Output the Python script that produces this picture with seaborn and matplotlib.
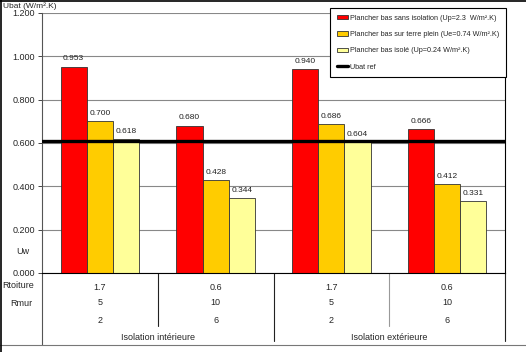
import pandas as pd
import matplotlib.pyplot as plt
import matplotlib.transforms as mtransforms
from matplotlib.lines import Line2D
import seaborn as sns

# Data
groups = ["G1", "G2", "G3", "G4"]
series = ["Plancher bas sans isolation (Up=2.3  W/m².K)",
          "Plancher bas sur terre plein (Ue=0.74 W/m².K)",
          "Plancher bas isolé (Up=0.24 W/m².K)"]
sans_isolation = [0.953, 0.680, 0.940, 0.666]
terre_plein = [0.700, 0.428, 0.686, 0.412]
isole = [0.618, 0.344, 0.604, 0.331]
ubat_ref = 0.61
rtoiture = ["1.7", "0.6", "1.7", "0.6"]
rmur = ["5", "10", "5", "10"]
uw = ["2", "6", "2", "6"]
isolation_labels = ["Isolation intérieure", "Isolation extérieure"]

rows = []
for s, vals in zip(series, [sans_isolation, terre_plein, isole]):
    for g, v in zip(groups, vals):
        rows.append({"groupe": g, "serie": s, "Ubat": v})
df = pd.DataFrame(rows)

sns.set_style("white")
plt.rcParams['font.family'] = ['Liberation Sans', 'DejaVu Sans']

fig = plt.figure(figsize=(5.26, 3.52), dpi=100)
ax = fig.add_axes([42/526, 1-273/352, 463/526, 260/352])

palette = ["#FF0000", "#FFCC00", "#FFFF99"]
sns.barplot(data=df, x="groupe", y="Ubat", hue="serie", palette=palette,
            saturation=1, width=0.68, edgecolor="#333333", linewidth=0.6, ax=ax)

for container in ax.containers:
    ax.bar_label(container, fmt="%.3f", padding=3, fontsize=6, color="#222222")

ax.axhline(ubat_ref, color="black", linewidth=2.4, label="Ubat ref", zorder=3)

ax.set_ylim(0, 1.2)
ax.set_yticks([0, 0.2, 0.4, 0.6, 0.8, 1.0, 1.2])
ax.set_yticklabels([f"{t:.3f}" for t in ax.get_yticks()], fontsize=6.5)
ax.yaxis.grid(True, color="#888888", linewidth=0.8)
ax.set_axisbelow(True)
ax.tick_params(axis="y", direction="out", length=3, width=0.6, pad=2, left=True)
ax.set_xticks([])
ax.set_xlabel("")
ax.set_ylabel("")
ax.set_xlim(-0.5, 3.5)
ax.spines["top"].set_visible(False)
ax.spines["left"].set_color("#555555")
ax.spines["right"].set_color("black")
ax.spines["bottom"].set_color("black")
for sp in ax.spines.values():
    sp.set_linewidth(0.8)

handles, labels = ax.get_legend_handles_labels()
leg = ax.legend(handles, labels, loc="upper right", bbox_to_anchor=(1.006, 1.027),
                fontsize=5.2, frameon=True, fancybox=False, edgecolor="black",
                framealpha=1, borderpad=0.9, labelspacing=1.3,
                handlelength=1.6, handleheight=0.6, handletextpad=0.2,
                borderaxespad=0.3)
leg.get_frame().set_linewidth(0.8)

# table below the chart
trans = mtransforms.blended_transform_factory(ax.transData, ax.transAxes)
for i in range(len(groups)):
    ax.text(i, -0.054, rtoiture[i], transform=trans, ha="center", va="center", fontsize=6.5)
    ax.text(i, -0.115, rmur[i], transform=trans, ha="center", va="center", fontsize=6.5)
    ax.text(i, -0.181, uw[i], transform=trans, ha="center", va="center", fontsize=6.5)
ax.text(0.5, -0.25, isolation_labels[0], transform=trans, ha="center", va="center", fontsize=6.5)
ax.text(2.5, -0.25, isolation_labels[1], transform=trans, ha="center", va="center", fontsize=6.5)

for xs, y1, col in [(0.5, -0.205, "#222222"), (1.5, -0.26, "#222222"),
                    (2.5, -0.205, "#999999"), (3.5, -0.26, "#222222")]:
    ax.add_line(Line2D([xs, xs], [0, y1], transform=trans, color=col,
                       linewidth=0.8, clip_on=False))
ax.add_line(Line2D([-0.5, -0.5], [0, -0.275], transform=trans, color="#555555",
                   linewidth=0.8, clip_on=False))

fig.text(16/526, 1-252/352, "Uw", fontsize=6.5, ha="left", va="center")
fig.text(2/526, 1-285/352, "Rtoiture", fontsize=6.5, ha="left", va="center")
fig.text(10/526, 1-303/352, "Rmur", fontsize=6.5, ha="left", va="center")
fig.text(3/526, 1-2/352, "Ubat (W/m².K)", fontsize=6, ha="left", va="top")

# frame lines of the picture
fig.add_artist(Line2D([0, 1], [1-345/352, 1-345/352], color="#777777", linewidth=0.8))
fig.add_artist(Line2D([0.002, 0.002], [0, 1], color="black", linewidth=1.2))
fig.add_artist(Line2D([0, 1], [0.998, 0.998], color="black", linewidth=1.2))

fig.savefig("out.png", dpi=100)
